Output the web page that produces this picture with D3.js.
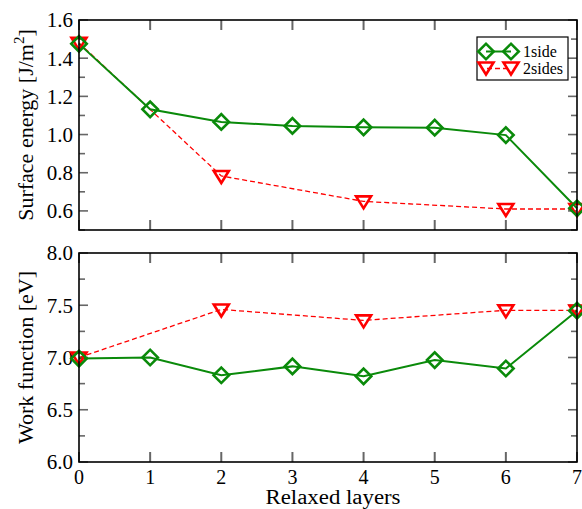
<!DOCTYPE html>
<html>
<head>
<meta charset="utf-8">
<script src="https://cdn.jsdelivr.net/npm/d3@7"></script>
<style>
  body { margin: 0; background: #fff; }
  svg { display: block; }
  text { font-family: "Liberation Serif", "Times New Roman", serif; fill: #000; }
</style>
</head>
<body>
<svg id="chart" width="582" height="509"></svg>
<script>
// Relaxed layers (x) for each series
const layers1 = [0, 1, 2, 3, 4, 5, 6, 7];
const layers2 = [0, 2, 4, 6, 7];

// Surface energy [J/m^2]
const energy1side = [1.475, 1.132, 1.066, 1.045, 1.038, 1.036, 0.997, 0.614];
const energy2sides = [1.48, 0.783, 0.65, 0.61, 0.61];

// Work function [eV]
const work1side = [6.99, 7.0, 6.83, 6.915, 6.82, 6.975, 6.895, 7.448];
const work2sides = [7.0, 7.46, 7.355, 7.452, 7.45];

const xTicks = [0, 1, 2, 3, 4, 5, 6, 7];
const energyTicks = [0.6, 0.8, 1.0, 1.2, 1.4, 1.6];
const workTicks = [6.0, 6.5, 7.0, 7.5, 8.0];

const seriesNames = ["1side", "2sides"];
const green = "#0a8a0a";
const red = "#ff0000";

const svg = d3.select("#chart");
const left = 79, right = 577;

const x = d3.scaleLinear().domain([0, 7]).range([left, right]);

const panels = [
  {
    top: 20, bottom: 230, domain: [0.5, 1.6], ticks: energyTicks,
    minor: d3.range(5, 17).map(d => d / 10), fmt: d3.format(".1f"),
    title: ["Surface energy [J/m", "2", "]"], s1: energy1side, s2: energy2sides,
    showX: false, legend: true
  },
  {
    top: 253, bottom: 462, domain: [6.0, 8.0], ticks: workTicks,
    minor: d3.range(24, 33).map(d => d / 4), fmt: d3.format(".1f"),
    title: ["Work function [eV]"], s1: work1side, s2: work2sides,
    showX: true, legend: false
  }
];

const diamond = d3.symbol().type(d3.symbolSquare).size(120);
function triangleDown(g, cx, cy) {
  const w = 15, h = 12;
  g.append("path")
    .attr("d", `M${cx - w / 2},${cy - h / 2 + 1}L${cx + w / 2},${cy - h / 2 + 1}L${cx},${cy + h / 2 + 1}Z`)
    .attr("fill", "none").attr("stroke", red).attr("stroke-width", 2.6)
    .attr("stroke-linejoin", "miter");
}
function diamondAt(g, cx, cy) {
  g.append("path")
    .attr("d", diamond())
    .attr("transform", `translate(${cx},${cy}) rotate(45)`)
    .attr("fill", "none").attr("stroke", green).attr("stroke-width", 2.6);
}

panels.forEach(p => {
  const y = d3.scaleLinear().domain(p.domain).range([p.bottom, p.top]);
  const g = svg.append("g");

  // tick marks, drawn inward on all four sides
  const tickColor = "#666";
  xTicks.forEach(t => {
    g.append("line").attr("x1", x(t)).attr("x2", x(t)).attr("y1", p.bottom).attr("y2", p.bottom - 10)
      .attr("stroke", tickColor).attr("stroke-width", 2);
    g.append("line").attr("x1", x(t)).attr("x2", x(t)).attr("y1", p.top).attr("y2", p.top + 10)
      .attr("stroke", tickColor).attr("stroke-width", 2);
  });
  p.minor.forEach(t => {
    const isMajor = p.ticks.some(m => Math.abs(m - t) < 1e-9);
    const len = isMajor ? 9 : 6;
    g.append("line").attr("x1", left).attr("x2", left + len).attr("y1", y(t)).attr("y2", y(t))
      .attr("stroke", tickColor).attr("stroke-width", 1.6);
    g.append("line").attr("x1", right).attr("x2", right - len).attr("y1", y(t)).attr("y2", y(t))
      .attr("stroke", tickColor).attr("stroke-width", 1.6);
  });

  // y tick labels
  p.ticks.forEach(t => {
    g.append("text").attr("x", left - 6).attr("y", y(t)).attr("dy", "0.35em")
      .attr("text-anchor", "end").attr("font-size", 21).text(p.fmt(t));
  });

  // x tick labels
  if (p.showX) {
    xTicks.forEach(t => {
      g.append("text").attr("x", x(t)).attr("y", 484)
        .attr("text-anchor", "middle").attr("font-size", 20).text(t);
    });
    g.append("text").attr("x", (left + right) / 2 + 5).attr("y", 504)
      .attr("text-anchor", "middle").attr("font-size", 20)
      .attr("textLength", 135).attr("lengthAdjust", "spacingAndGlyphs")
      .text("Relaxed layers");
  }

  // y title
  const cy = (p.top + p.bottom) / 2;
  const tt = g.append("text").attr("transform", `translate(33,${cy}) rotate(-90)`)
    .attr("text-anchor", "middle").attr("font-size", 22);
  tt.append("tspan").text(p.title[0]);
  if (p.title.length > 1) {
    tt.append("tspan").attr("dy", -9).attr("font-size", 15).text(p.title[1]);
    tt.append("tspan").attr("dy", 9).text(p.title[2]);
  }

  // series lines
  const line1 = d3.line().x((d, i) => x(layers1[i])).y(d => y(d));
  const line2 = d3.line().x((d, i) => x(layers2[i])).y(d => y(d));
  g.append("path").attr("d", line2(p.s2)).attr("fill", "none")
    .attr("stroke", red).attr("stroke-width", 1.3).attr("stroke-dasharray", "5,3");
  g.append("path").attr("d", line1(p.s1)).attr("fill", "none")
    .attr("stroke", green).attr("stroke-width", 2);

  // markers
  p.s2.forEach((v, i) => triangleDown(g, x(layers2[i]), y(v)));
  p.s1.forEach((v, i) => diamondAt(g, x(layers1[i]), y(v)));

  // frame
  g.append("rect").attr("x", left).attr("y", p.top).attr("width", right - left)
    .attr("height", p.bottom - p.top).attr("fill", "none").attr("stroke", "#000").attr("stroke-width", 1.6);

  if (p.legend) {
    const lg = svg.append("g");
    lg.append("rect").attr("x", 477).attr("y", 37).attr("width", 91).attr("height", 43)
      .attr("fill", "#fff").attr("stroke", "#000").attr("stroke-width", 1.2);
    const rows = [51.5, 68.5];
    // 1side
    lg.append("line").attr("x1", 486).attr("x2", 511).attr("y1", rows[0]).attr("y2", rows[0])
      .attr("stroke", green).attr("stroke-width", 2);
    diamondAt(lg, 486, rows[0]);
    diamondAt(lg, 511, rows[0]);
    // 2sides
    lg.append("line").attr("x1", 486).attr("x2", 511).attr("y1", rows[1]).attr("y2", rows[1])
      .attr("stroke", red).attr("stroke-width", 1.3).attr("stroke-dasharray", "5,3").attr("stroke-dashoffset", -9);
    triangleDown(lg, 486, rows[1] - 1);
    triangleDown(lg, 511, rows[1] - 1);
    seriesNames.forEach((n, i) => {
      lg.append("text").attr("x", 523).attr("y", rows[i]).attr("dy", "0.35em")
        .attr("font-size", 16).text(n);
    });
  }
});
</script>
</body>
</html>
